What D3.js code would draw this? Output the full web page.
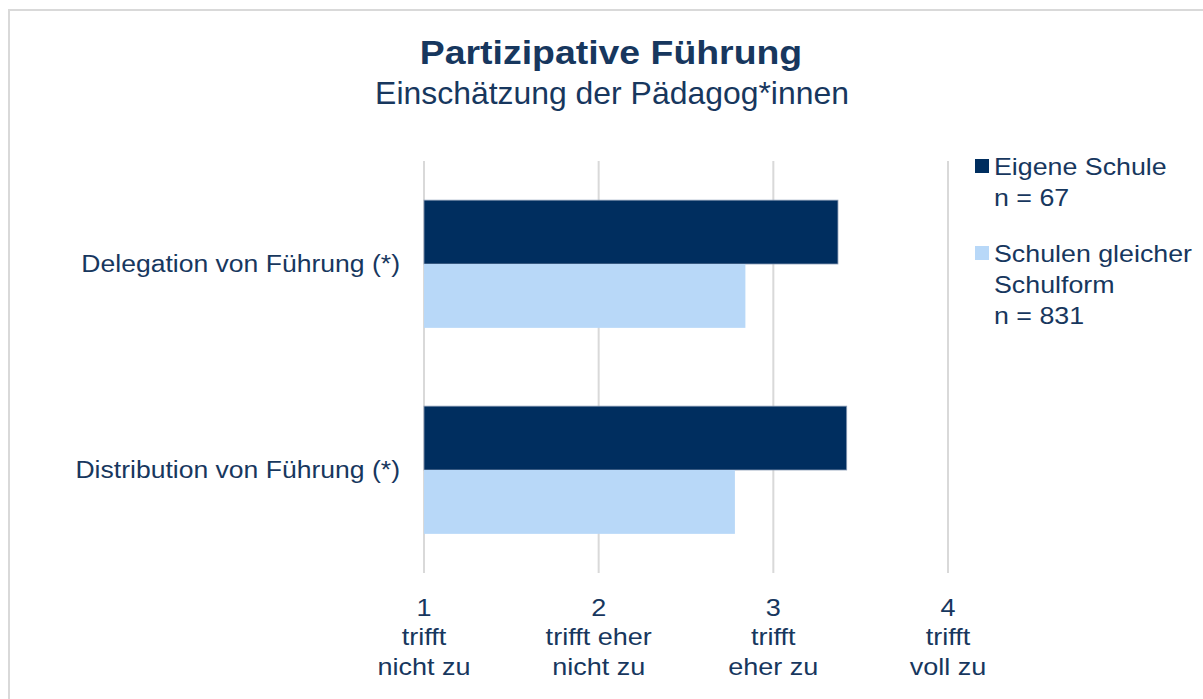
<!DOCTYPE html>
<html><head><meta charset="utf-8">
<script src="https://cdn.jsdelivr.net/npm/d3@7/dist/d3.min.js"></script>
<style>
html,body{margin:0;padding:0;background:#fff;}
svg{display:block;font-family:"Liberation Sans",Arial,sans-serif;}
</style></head>
<body>
<svg id="c" width="1203" height="699"></svg>
<script>
const categories = ["Delegation von Führung (*)", "Distribution von Führung (*)"];
const seriesNames = ["Eigene Schule", "Schulen gleicher Schulform"];
const seriesLegend = [["Eigene Schule", "n = 67"], ["Schulen gleicher", "Schulform", "n = 831"]];
const eigeneSchule = [3.37, 3.42];
const gleicheSchulform = [2.84, 2.78];
const tickValues = [1, 2, 3, 4];
const tickLabels = [["1", "trifft", "nicht zu"], ["2", "trifft eher", "nicht zu"], ["3", "trifft", "eher zu"], ["4", "trifft", "voll zu"]];
const colors = ["#002e5f", "#b8d8f8"];
const textColor = "#17375e";

const svg = d3.select("#c");
// helper: place text at (x,y) with horizontal stretch
function place(sel, x, y, sx) {
  return sel.attr("transform", `translate(${x},${y}) scale(${sx},1)`);
}

// outer frame
svg.append("rect").attr("x", 9).attr("y", 10).attr("width", 1203).attr("height", 700)
  .attr("fill", "#fff").attr("stroke", "#d9d9d9").attr("stroke-width", 2);

place(svg.append("text"), 611, 63.5, 1.117).attr("text-anchor", "middle")
  .attr("font-size", 33.5).attr("font-weight", "bold").attr("fill", textColor).text("Partizipative Führung");
place(svg.append("text"), 612, 104, 1.03).attr("text-anchor", "middle")
  .attr("font-size", 31).attr("fill", textColor).text("Einschätzung der Pädagog*innen");

const x = d3.scaleLinear().domain([1, 4]).range([424, 948]);
const y = d3.scaleBand().domain(categories).range([161, 573]).paddingInner(0.38).paddingOuter(0.19);
const ySub = d3.scaleBand().domain(seriesNames).range([0, y.bandwidth()]);

// gridlines
svg.append("g").selectAll("line").data(tickValues).join("line")
  .attr("x1", d => x(d)).attr("x2", d => x(d)).attr("y1", 161).attr("y2", 573)
  .attr("stroke", "#d9d9d9").attr("stroke-width", 2);

const data = categories.map((c, i) => ({cat: c, vals: [eigeneSchule[i], gleicheSchulform[i]]}));
const g = svg.append("g");
data.forEach(d => {
  g.selectAll(null).data(d.vals.map((v, j) => ({v, s: seriesNames[j], j}))).join("rect")
    .attr("x", x(1)).attr("y", e => y(d.cat) + ySub(e.s))
    .attr("width", e => x(e.v) - x(1)).attr("height", ySub.bandwidth())
    .attr("fill", e => colors[e.j])
    .attr("stroke", e => e.j === 0 ? "#8a9bb5" : "none").attr("stroke-width", 0.8);
});

// category labels
svg.append("g").selectAll("text").data(categories).join("text")
  .each(function(d){ place(d3.select(this), 400, y(d) + y.bandwidth() / 2, 1.13); })
  .attr("dy", "0.35em")
  .attr("text-anchor", "end").attr("font-size", 23.5).attr("fill", textColor).text(d => d);

// tick labels
const tg = svg.append("g").selectAll("text").data(tickValues).join("text")
  .each(function(d){ place(d3.select(this), x(d), 616, 1.15); })
  .attr("text-anchor", "middle")
  .attr("font-size", 23.5).attr("fill", textColor);
tg.selectAll("tspan").data((d, i) => tickLabels[i]).join("tspan")
  .attr("x", 0).attr("dy", (d, i) => i === 0 ? 0 : 29.5).text(d => d);

// legend
const lg = svg.append("g");
const legY = [166, 253];
seriesLegend.forEach((lines, i) => {
  lg.append("rect").attr("x", 975).attr("y", legY[i] - 7).attr("width", 14).attr("height", 14).attr("fill", colors[i]);
  const t = place(lg.append("text"), 994, legY[i] + 9, 1.14).attr("font-size", 23.5).attr("fill", textColor);
  lines.forEach((l, k) => t.append("tspan").attr("x", 0).attr("dy", k === 0 ? 0 : 31).text(l));
});
</script>
</body></html>
